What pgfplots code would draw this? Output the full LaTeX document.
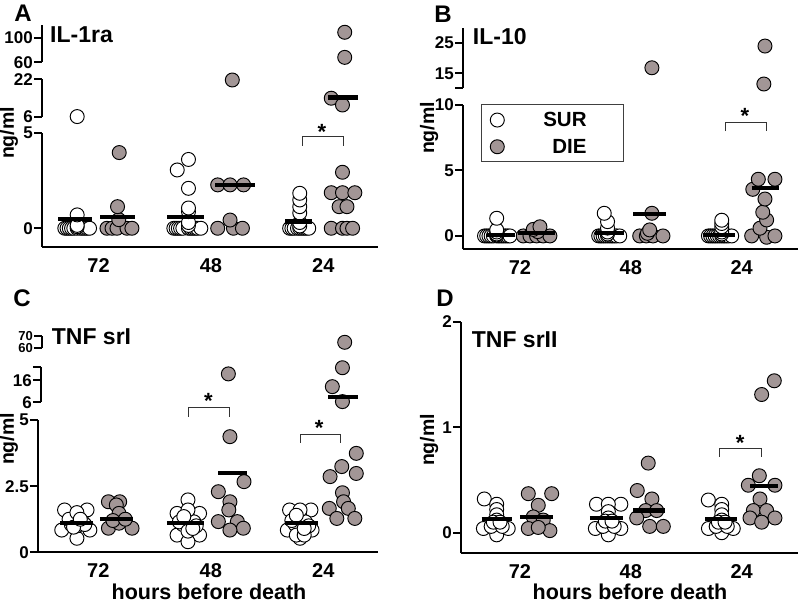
\documentclass[border=0pt]{standalone}
\usepackage{pgfplots}
\pgfplotsset{compat=1.18}
\usepackage{fontspec}
\setmainfont{Liberation Sans}
\definecolor{diecol}{RGB}{162,150,150}
\newcommand{\fs}[1]{\fontsize{#1}{#1}\selectfont\bfseries}
\tikzset{astk/.style={font=\fs{22}, yshift=-4.5pt}}
\pgfplotsset{
  seg/.style={scale only axis, clip=false, clip marker paths=true, enlargelimits=false, anchor=south west,
    axis y line*=left,
    axis line style={line width=2pt, -},
    every outer x axis line/.append style={-},
    every outer y axis line/.append style={-},
    tick align=outside, major tick length=8pt,
    every tick/.style={black, line width=2pt},
    yticklabel style={font=\fs{17}, inner xsep=1pt},
    /pgf/number format/assume math mode=true},
  topseg/.style={seg, axis x line=none, xtick=\empty},
  botseg/.style={seg, axis x line*=bottom, xtick={1,2,3}, xticklabels={72,48,24},
    xticklabel style={font=\fs{20}}, major x tick style={draw=none}},
  sur/.style={only marks, mark=*, mark size=7pt, mark options={fill=white, draw=black, line width=0.95pt}},
  die/.style={only marks, mark=*, mark size=7pt, mark options={fill=diecol, draw=black, line width=0.95pt}},
  oneimg/.style={legend image code/.code={\draw[##1] plot coordinates {(0pt,0pt)};}},
  med/.style={forget plot, black, line width=4.2pt, no marks},
  brk/.style={forget plot, black!80, line width=1pt, no marks},
}
\begin{document}
\begin{tikzpicture}
\useasboundingbox (0pt,0pt) rectangle (800pt,605pt);
%================ Panel A ================
\begin{axis}[botseg, at={(42pt,358pt)}, width=336pt, height=114.3pt,
  xmin=0.497, xmax=3.486, ymin=-0.98, ymax=5, ytick={0,5}, yticklabels={0,5}]
\addplot[sur] coordinates {(0.70,0) (0.72,0) (0.74,0) (0.76,0) (0.78,0) (0.81,0) (0.84,0) (0.86,0) (0.88,0) (0.90,0) (0.92,0) (0.81,0.08) (0.81,0.15) (0.81,0.7)
 (1.67,0) (1.69,0) (1.71,0) (1.73,0) (1.75,0) (1.80,0) (1.82,0) (1.84,0) (1.86,0) (1.88,0) (1.91,0) (1.80,0.15) (1.80,0.3) (1.80,0.87) (1.80,1.06) (1.80,2.09) (1.80,3.6) (1.70,3.05)
 (2.70,0) (2.72,0) (2.74,0) (2.77,0) (2.79,0) (2.81,0) (2.83,0) (2.85,0) (2.87,0) (2.79,0.12) (2.79,0.3) (2.79,0.8) (2.79,1.13) (2.79,1.48) (2.79,1.83)};
\addplot[die] coordinates {(1.075,0) (1.12,0) (1.164,0) (1.253,0) (1.297,0) (1.18,0.45) (1.169,1.13) (1.184,3.96)
 (2.06,0) (2.20,0) (2.28,0) (2.17,0.43) (2.06,2.27) (2.17,2.27) (2.29,2.27)
 (3.07,0) (3.17,0) (3.21,0) (3.26,0) (3.17,2.93) (3.07,1.86) (3.17,1.86) (3.28,1.86) (3.14,1.13) (3.21,1.13)};
\addplot[med] coordinates {(0.642,0.49) (0.944,0.49)};
\addplot[med] coordinates {(1.015,0.61) (1.326,0.61)};
\addplot[med] coordinates {(1.61,0.57) (1.94,0.57)};
\addplot[med] coordinates {(2.04,2.27) (2.39,2.27)};
\addplot[med] coordinates {(2.66,0.35) (2.90,0.35)};
\addplot[brk] coordinates {(2.817,4.32) (2.817,4.8) (3.18,4.8) (3.18,4.32)};
\node[astk] at (axis cs:2.986,5.27) {*};
\end{axis}
\begin{axis}[topseg, at={(42pt,488.3pt)}, width=336pt, height=37.4pt,
  xmin=0.497, xmax=3.486, ymin=6, ymax=22, ytick={6,22}, yticklabels={6,22}]
\addplot[sur] coordinates {(0.81,6.05)};
\addplot[die] coordinates {(2.19,21.7) (3.07,13.9) (3.17,11.0)};
\addplot[med] coordinates {(3.04,14.2) (3.31,14.2)};
\end{axis}
\begin{axis}[topseg, at={(42pt,542.7pt)}, width=336pt, height=37.3pt,
  xmin=0.497, xmax=3.486, ymin=60, ymax=120.5, ytick={60,100}, yticklabels={60,100}]
\addplot[die] coordinates {(3.19,68) (3.19,108.7)};
\end{axis}
\node[font=\fs{24}, inner sep=0pt] at (23pt,592pt) {A};
\node[font=\fs{23}, anchor=west, inner sep=0pt] at (50pt,570.5pt) {IL-1ra};
\node[font=\fs{19.5}, rotate=90] at (9pt,472pt) {ng/ml};
%================ Panel B ================
\begin{axis}[botseg, at={(463pt,355.7pt)}, width=335pt, height=144.3pt,
  xmin=0.486, xmax=3.508, ymin=-1.02, ymax=10, ytick={0,5,10}, yticklabels={0,5,10},
  legend style={at={(0.0809,0.8035)}, anchor=west, draw=none, fill=none, font=\fs{20.5},
    row sep=7pt, inner xsep=0pt, inner ysep=0pt,
    /tikz/every odd column/.append style={column sep=37pt}},
  legend cell align=right]
\addplot[sur, oneimg] coordinates {(0.68,0) (0.70,0) (0.72,0) (0.74,0) (0.76,0) (0.79,0) (0.81,0) (0.83,0) (0.85,0) (0.87,0) (0.89,0) (0.91,0) (0.79,0.08) (0.79,0.15) (0.79,0.3) (0.79,0.46) (0.79,1.35)
 (1.71,0) (1.73,0) (1.75,0) (1.77,0) (1.79,0) (1.81,0) (1.83,0) (1.85,0) (1.87,0) (1.90,0) (1.79,0.15) (1.79,0.3) (1.79,0.6) (1.79,1.09) (1.76,1.73)
 (2.70,0) (2.72,0) (2.74,0) (2.76,0) (2.78,0) (2.80,0) (2.82,0) (2.84,0) (2.86,0) (2.88,0) (2.91,0) (2.82,0.15) (2.82,0.3) (2.82,0.7) (2.82,0.95) (2.82,1.2)};
\addlegendentry{SUR}
\addplot[die, oneimg] coordinates {(1.03,0) (1.09,0) (1.15,0) (1.21,0) (1.27,0) (1.16,0.33) (1.12,0.5) (1.18,0.7)
 (2.08,0) (2.14,0) (2.20,0) (2.29,0) (2.15,0.2) (2.17,0.46) (2.19,1.73)
 (3.09,0) (3.225,-0.1) (3.30,0) (3.165,0.59) (3.225,1.22) (3.19,1.81) (3.21,2.82) (3.10,3.56) (3.15,4.33) (3.30,4.33)};
\addlegendentry{DIE}
\addplot[med] coordinates {(0.70,0.08) (0.955,0.08)};
\addplot[med] coordinates {(0.985,0.2) (1.316,0.2)};
\addplot[med] coordinates {(1.68,0.2) (1.94,0.2)};
\addplot[med] coordinates {(2.02,1.65) (2.32,1.65)};
\addplot[med] coordinates {(2.653,0.08) (2.94,0.08)};
\addplot[med] coordinates {(3.09,3.64) (3.34,3.64)};
\addplot[brk] coordinates {(2.856,8.0) (2.856,8.7) (3.225,8.7) (3.225,8.0)};
\node[astk] at (axis cs:3.03,9.5) {*};
\end{axis}
\begin{axis}[topseg, at={(463pt,516.7pt)}, width=335pt, height=60.3pt,
  xmin=0.486, xmax=3.508, ymin=10.1, ymax=29.8, ytick={15,25}, yticklabels={15,25},
  extra y ticks={10.1}, extra y tick labels={}]
\addplot[die] coordinates {(2.19,16.8) (3.21,23.9) (3.20,11.5)};
\end{axis}
\draw[line width=0.9pt, black!75] (481pt,444pt) rectangle (623.5pt,500.7pt);
\node[font=\fs{24}, inner sep=0pt] at (443pt,590.5pt) {B};
\node[font=\fs{23}, anchor=west, inner sep=0pt] at (472.7pt,568.5pt) {IL-10};
\node[font=\fs{19.5}, rotate=90] at (429pt,477pt) {ng/ml};
%================ Panel C ================
\begin{axis}[botseg, at={(38pt,52.7pt)}, width=340pt, height=132.3pt,
  xmin=0.464, xmax=3.486, ymin=0, ymax=5, ytick={0,2.5,5}, yticklabels={0,2.5,5}]
\addplot[sur] coordinates {(0.70,1.6) (0.90,1.6) (0.675,0.84) (0.925,0.84) (0.81,0.53) (0.81,1.0) (0.81,1.1) (0.81,1.2) (0.81,1.3) (0.76,1.05) (0.86,1.15) (0.74,1.25) (0.88,1.05) (0.81,1.5) (0.78,0.95) (0.84,1.25)
 (1.797,1.98) (1.70,1.47) (1.90,1.47) (1.70,0.65) (1.90,0.65) (1.797,0.4) (1.797,1.0) (1.797,1.1) (1.797,1.2) (1.797,1.3) (1.75,1.05) (1.85,1.15) (1.72,1.15) (1.87,1.0) (1.797,1.6) (1.797,0.8) (1.76,1.35) (1.84,0.9)
 (2.70,1.6) (2.89,1.6) (2.68,0.84) (2.90,0.84) (2.793,0.53) (2.793,1.0) (2.793,1.1) (2.793,1.2) (2.793,1.35) (2.75,1.05) (2.84,1.15) (2.72,1.2) (2.87,1.0) (2.76,0.65) (2.83,0.65) (2.793,1.6) (2.76,1.4) (2.83,0.9)};
\addplot[die] coordinates {(1.09,1.91) (1.19,1.91) (1.16,1.79) (1.184,1.47) (1.09,0.91) (1.30,0.91) (1.184,1.1) (1.13,1.2) (1.24,1.25)
 (2.17,4.37) (2.295,2.67) (2.067,2.29) (2.17,1.91) (2.16,1.6) (2.067,1.16) (2.236,1.16) (2.289,0.91) (2.17,0.84)
 (3.293,3.74) (3.164,3.24) (3.293,2.98) (3.06,2.86) (3.17,2.25) (3.18,1.91) (3.053,1.66) (3.222,1.66) (3.28,1.28) (3.12,1.28)};
\addplot[med] coordinates {(0.66,1.12) (0.955,1.12)};
\addplot[med] coordinates {(1.015,1.26) (1.31,1.26)};
\addplot[med] coordinates {(1.61,1.12) (1.94,1.12)};
\addplot[med] coordinates {(2.064,3.01) (2.32,3.01)};
\addplot[med] coordinates {(2.66,1.12) (2.95,1.12)};
\addplot[brk] coordinates {(1.806,5.12) (1.806,5.48) (2.17,5.48) (2.17,5.12)};
\node[astk] at (axis cs:1.978,5.88) {*};
\addplot[brk] coordinates {(2.793,4.14) (2.793,4.47) (3.155,4.47) (3.155,4.14)};
\node[astk] at (axis cs:2.964,4.88) {*};
\end{axis}
\begin{axis}[topseg, at={(41pt,202.5pt)}, width=337pt, height=35.2pt,
  xmin=0.4907, xmax=3.486, ymin=6, ymax=22, ytick={6,16,22}, yticklabels={6,16,{}}]
\addplot[die] coordinates {(2.156,19.0) (3.17,6.4) (3.08,13.2) (3.17,21.8)};
\addplot[med] coordinates {(3.04,8.4) (3.31,8.4)};
\end{axis}
\begin{axis}[topseg, at={(42pt,257pt)}, width=336pt, height=12pt,
  xmin=0.4996, xmax=3.486, ymin=60, ymax=70, ytick={60,70}, yticklabels={60,70},
  yticklabel style={font=\fs{13}, inner ysep=0pt}]
\addplot[die] coordinates {(3.19,64.75)};
\end{axis}
\node[font=\fs{24}, inner sep=0pt] at (22pt,307pt) {C};
\node[font=\fs{23}, anchor=west, inner sep=0pt] at (51.7pt,268.5pt) {TNF srI};
\node[font=\fs{19.5}, rotate=90] at (9pt,166pt) {ng/ml};
\node[font=\fs{21.5}, inner sep=0pt] at (209pt,13pt) {hours before death};
%================ Panel D ================
\begin{axis}[botseg, at={(461pt,51.7pt)}, width=337pt, height=231.6pt,
  xmin=0.468, xmax=3.508, ymin=-0.195, ymax=2, ytick={0,1,2}, yticklabels={0,1,2}]
\addplot[sur] coordinates {(0.678,0.32) (0.79,0.27) (0.79,0.22) (0.79,0.17) (0.79,0.12) (0.79,0.08) (0.67,0.04) (0.894,0.04) (0.79,-0.02) (0.74,0.06) (0.84,0.06) (0.76,0.1) (0.82,0.1)
 (1.69,0.27) (1.91,0.27) (1.797,0.27) (1.797,0.2) (1.797,0.14) (1.797,0.08) (1.68,0.04) (1.91,0.04) (1.797,-0.02) (1.75,0.06) (1.85,0.06) (1.77,0.11) (1.83,0.11)
 (2.699,0.31) (2.82,0.27) (2.82,0.22) (2.82,0.17) (2.82,0.12) (2.82,0.08) (2.70,0.04) (2.924,0.04) (2.82,0.0) (2.77,0.06) (2.87,0.06) (2.79,0.1) (2.85,0.1)};
\addplot[die] coordinates {(1.075,0.37) (1.286,0.37) (1.165,0.26) (1.12,0.15) (1.21,0.12) (1.075,0.04) (1.27,0.02) (1.165,0.05)
 (2.157,0.66) (2.058,0.4) (2.19,0.32) (2.134,0.21) (2.233,0.21) (2.053,0.14) (2.17,0.06) (2.293,0.06)
 (3.294,1.44) (3.18,1.31) (3.159,0.54) (3.06,0.45) (3.30,0.45) (3.165,0.32) (3.105,0.21) (3.225,0.21) (3.075,0.14) (3.30,0.14) (3.18,0.1)};
\addplot[med] coordinates {(0.655,0.13) (0.925,0.13)};
\addplot[med] coordinates {(1.0,0.15) (1.30,0.15)};
\addplot[med] coordinates {(1.63,0.14) (1.93,0.14)};
\addplot[med] coordinates {(2.02,0.21) (2.31,0.21)};
\addplot[med] coordinates {(2.67,0.13) (2.955,0.13)};
\addplot[med] coordinates {(3.075,0.44) (3.33,0.44)};
\addplot[brk] coordinates {(2.804,0.72) (2.804,0.80) (3.18,0.80) (3.18,0.72)};
\node[astk] at (axis cs:2.985,0.895) {*};
\end{axis}
\node[font=\fs{24}, inner sep=0pt] at (445pt,307pt) {D};
\node[font=\fs{23}, anchor=west, inner sep=0pt] at (471.7pt,265.5pt) {TNF srII};
\node[font=\fs{19.5}, rotate=90] at (429pt,165pt) {ng/ml};
\node[font=\fs{21.5}, inner sep=0pt] at (630pt,13pt) {hours before death};
\end{tikzpicture}
\end{document}
